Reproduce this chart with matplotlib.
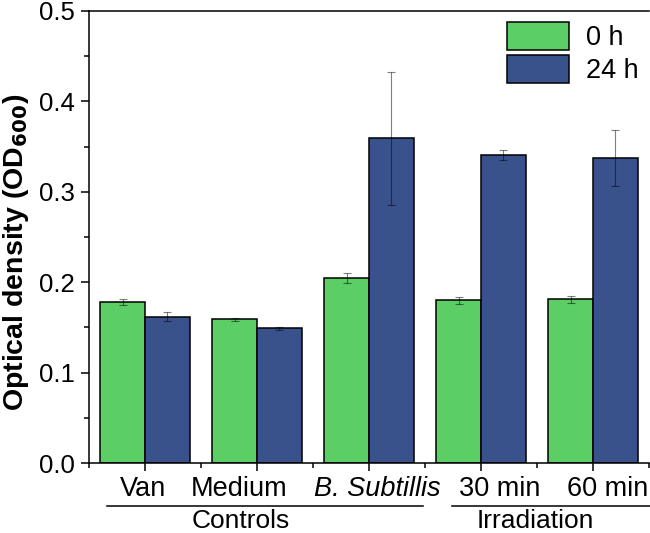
import numpy as np
import matplotlib
matplotlib.use("Agg")
import matplotlib.pyplot as plt
from matplotlib.lines import Line2D
from matplotlib.ticker import MultipleLocator, FormatStrFormatter
import matplotlib.transforms as mtrans

plt.rcParams["font.family"] = ["Liberation Sans", "DejaVu Sans"]

categories = ["Van", "Medium", "B. Subtillis", "30 min", "60 min"]
od_0h = [0.178, 0.159, 0.205, 0.180, 0.181]
err_0h = [0.0037, 0.0017, 0.0055, 0.0036, 0.0037]
od_24h = [0.162, 0.149, 0.359, 0.341, 0.337]
err_24h = [0.0050, 0.0015, 0.0737, 0.0055, 0.0310]
groups = ["Controls", "Irradiation"]

GREEN = "#5bcf65"
BLUE = "#3a528b"

fig = plt.figure(figsize=(6.5, 5.33), dpi=100)
ax = fig.add_axes([0.137, 0.1313, 0.8615, 0.8481])

x = np.arange(1, len(categories) + 1)
w = 0.4
ekw = dict(ecolor=(0, 0, 0, 0.5), elinewidth=0.8, capsize=3.2, capthick=0.8)
ax.bar(x - w / 2, od_0h, w, yerr=err_0h, color=GREEN, edgecolor="black",
       linewidth=1.1, label="0 h", error_kw=ekw)
ax.bar(x + w / 2, od_24h, w, yerr=err_24h, color=BLUE, edgecolor="black",
       linewidth=1.1, label="24 h", error_kw=ekw)

ax.set_xlim(0.5, 5.5)
ax.set_ylim(0, 0.5)
ax.yaxis.set_major_locator(MultipleLocator(0.1))
ax.yaxis.set_minor_locator(MultipleLocator(0.05))
ax.yaxis.set_major_formatter(FormatStrFormatter("%.1f"))
ax.set_xticks(x)
ax.set_xticklabels([])
ax.set_xticks(np.arange(0.5, 5.6, 1.0), minor=True)
ax.tick_params(axis="both", which="major", direction="out", length=6, width=1.1,
               labelsize=18.5, pad=4)
ax.tick_params(axis="both", which="minor", direction="out", length=3.5, width=1.1)
for s in ["left", "bottom", "top"]:
    ax.spines[s].set_linewidth(1.1)
ax.spines["right"].set_visible(False)

ax.set_ylabel("Optical density (OD$_{\\mathbf{600}}$)", fontsize=20.5,
              fontweight="bold")
ax.yaxis.set_label_coords(-0.104, 0.465)

# category labels (placed as in the original, slightly off-centre)
lab_x = [0.98, 1.84, 3.07, 4.17, 5.13]
trans = mtrans.blended_transform_factory(ax.transData, ax.transAxes)
for xi, lab in zip(lab_x, categories):
    ax.text(xi, -0.058, lab, transform=trans, ha="center", va="center",
            fontsize=19.5, style="italic" if lab.startswith("B.") else "normal")

# group labels and underlines
fig.add_artist(Line2D([107 / 650, 423 / 650], [1 - 506 / 533] * 2,
                      color="black", linewidth=1.1))
fig.add_artist(Line2D([452 / 650, 1.0], [1 - 506 / 533] * 2,
                      color="black", linewidth=1.1))
fig.text(241 / 650, 1 - 521 / 533, groups[0], ha="center", va="center", fontsize=19)
fig.text(535 / 650, 1 - 521 / 533, groups[1], ha="center", va="center", fontsize=19)

ax.legend(loc="upper right", bbox_to_anchor=(1.0, 1.0), frameon=False,
          fontsize=19.5, handlelength=2.3, handleheight=1.2, labelspacing=0.15,
          handletextpad=0.6, borderaxespad=0.0, borderpad=0.4)

fig.savefig("out.png", dpi=100)
